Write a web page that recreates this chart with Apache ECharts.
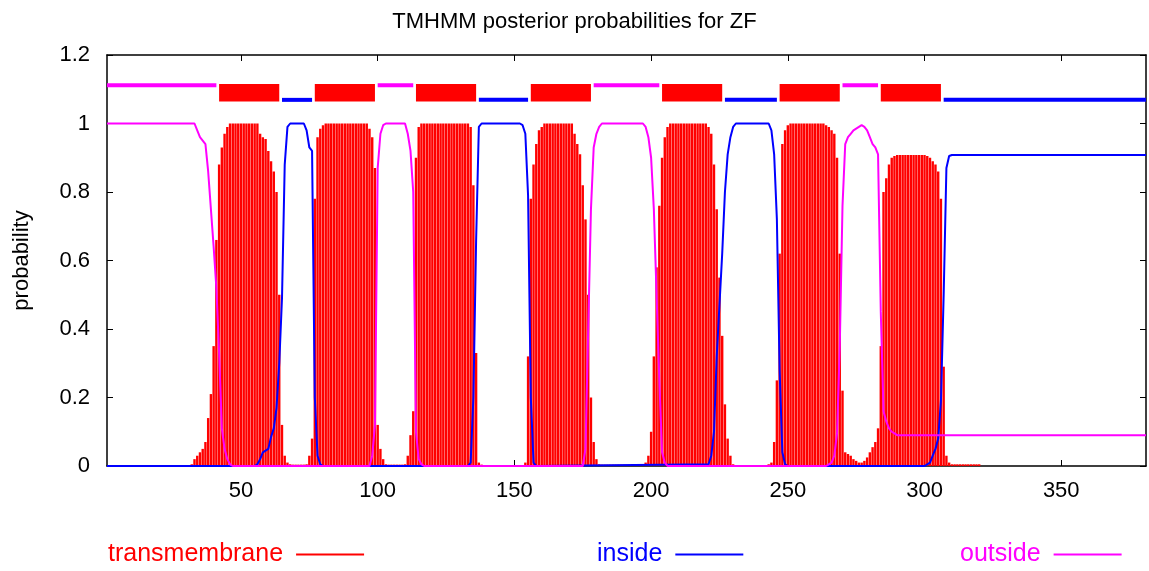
<!DOCTYPE html>
<html>
<head>
<meta charset="utf-8">
<title>TMHMM posterior probabilities for ZF</title>
<script src="https://cdn.jsdelivr.net/npm/echarts@6/dist/echarts.min.js"></script>
<style>
  html, body { margin: 0; padding: 0; background: #ffffff; }
  #chart { width: 1149px; height: 571px; }
</style>
</head>
<body>
<div id="chart"></div>
<script>
// ---- data ---------------------------------------------------------------
const chartTitle = 'TMHMM posterior probabilities for ZF';
const seqLength = 381;
const xTicks = [50, 100, 150, 200, 250, 300, 350];

// posterior probability of being in a transmembrane helix, residues 1..381
const transmembrane = [
  0, 0, 0, 0, 0, 0, 0, 0, 0, 0,                                   // 1-10
  0, 0, 0, 0, 0, 0, 0, 0, 0, 0,                                   // 11-20
  0, 0, 0, 0, 0, 0, 0, 0, 0, 0,                                   // 21-30
  0.003, 0.005, 0.02, 0.03, 0.04, 0.05, 0.07, 0.14, 0.21, 0.35,   // 31-40
  0.66, 0.88, 0.93, 0.97, 0.99, 1, 1, 1, 1, 1,                    // 41-50
  1, 1, 1, 1, 1, 1, 0.97, 0.96, 0.955, 0.92,                      // 51-60
  0.89, 0.86, 0.80, 0.50, 0.12, 0.03, 0.01, 0.005, 0.004, 0.004,  // 61-70
  0.004, 0.004, 0.004, 0.005, 0.03, 0.08, 0.78, 0.96, 0.985, 0.995, // 71-80
  1, 1, 1, 1, 1, 1, 1, 1, 1, 1,                                   // 81-90
  1, 1, 1, 1, 1, 1, 0.985, 0.96, 0.87, 0.12,                      // 91-100
  0.05, 0.02, 0.005, 0.004, 0.004, 0.004, 0.004, 0.004, 0.004, 0.005, // 101-110
  0.03, 0.09, 0.16, 0.90, 0.99, 1, 1, 1, 1, 1,                    // 111-120
  1, 1, 1, 1, 1, 1, 1, 1, 1, 1,                                   // 121-130
  1, 1, 1, 0.99, 0.82, 0.33, 0.01, 0.004, 0.003, 0.003,           // 131-140
  0.003, 0.003, 0.003, 0.003, 0.003, 0.003, 0.003, 0.003, 0.003, 0.003, // 141-150
  0.003, 0.003, 0.003, 0.01, 0.32, 0.78, 0.88, 0.94, 0.98, 0.99,  // 151-160
  1, 1, 1, 1, 1, 1, 1, 1, 1, 1,                                   // 161-170
  1, 0.97, 0.94, 0.91, 0.82, 0.72, 0.50, 0.20, 0.07, 0.02,        // 171-180
  0.005, 0.004, 0.004, 0.004, 0.004, 0.004, 0.004, 0.004, 0.004, 0.004, // 181-190
  0.004, 0.004, 0.004, 0.004, 0.004, 0.004, 0.005, 0.01, 0.03, 0.10, // 191-200
  0.32, 0.58, 0.76, 0.90, 0.96, 0.99, 1, 1, 1, 1,                 // 201-210
  1, 1, 1, 1, 1, 1, 1, 1, 1, 1,                                   // 211-220
  0.99, 0.97, 0.88, 0.75, 0.55, 0.38, 0.18, 0.08, 0.03, 0.005,    // 221-230
  0.003, 0.003, 0.003, 0.003, 0.003, 0.003, 0.003, 0.003, 0.003, 0.003, // 231-240
  0.003, 0.003, 0.005, 0.01, 0.07, 0.25, 0.62, 0.94, 0.98, 0.995, // 241-250
  1, 1, 1, 1, 1, 1, 1, 1, 1, 1,                                   // 251-260
  1, 1, 1, 0.995, 0.99, 0.98, 0.97, 0.90, 0.62, 0.22,             // 261-270
  0.04, 0.035, 0.03, 0.02, 0.015, 0.01, 0.01, 0.015, 0.025, 0.04, // 271-280
  0.055, 0.07, 0.11, 0.35, 0.80, 0.84, 0.88, 0.90, 0.905, 0.908,  // 281-290
  0.908, 0.908, 0.908, 0.908, 0.908, 0.908, 0.908, 0.908, 0.908, 0.908, // 291-300
  0.905, 0.90, 0.89, 0.88, 0.86, 0.78, 0.29, 0.03, 0.01, 0.005,   // 301-310
  0.005, 0.005, 0.005, 0.005, 0.005, 0.005, 0.005, 0.005, 0.005, 0.005, // 311-320
  0, 0, 0, 0, 0, 0, 0, 0, 0, 0,                                   // 321-330
  0, 0, 0, 0, 0, 0, 0, 0, 0, 0,                                   // 331-340
  0, 0, 0, 0, 0, 0, 0, 0, 0, 0,                                   // 341-350
  0, 0, 0, 0, 0, 0, 0, 0, 0, 0,                                   // 351-360
  0, 0, 0, 0, 0, 0, 0, 0, 0, 0,                                   // 361-370
  0, 0, 0, 0, 0, 0, 0, 0, 0, 0,                                   // 371-380
  0                                                               // 381
];

// posterior probability of the inside state: [residue, probability] where the curve bends
const inside = [
  [1, 0], [55, 0], [56, 0.005], [57, 0.02], [58, 0.04], [59, 0.045], [60, 0.05],
  [61, 0.085], [62, 0.11], [63, 0.17], [64, 0.30], [65, 0.49], [66, 0.88], [67, 0.99],
  [68, 1], [73, 1], [74, 0.98], [75, 0.93], [76, 0.92], [77, 0.20], [78, 0.03],
  [79, 0.005], [80, 0],
  [133, 0], [134, 0.01], [135, 0.20], [136, 0.66], [137, 0.99], [138, 1], [152, 1],
  [153, 0.995], [154, 0.97], [155, 0.79], [156, 0.20], [157, 0.01], [158, 0],
  [221, 0.005], [222, 0.03], [223, 0.10], [224, 0.32], [225, 0.47], [226, 0.62],
  [227, 0.80], [228, 0.91], [229, 0.96], [230, 0.99], [231, 1], [243, 1], [244, 0.98],
  [245, 0.91], [246, 0.72], [247, 0.28], [248, 0.04], [249, 0.005], [250, 0],
  [300, 0], [301, 0.005], [302, 0.01], [303, 0.03], [304, 0.05], [305, 0.08],
  [306, 0.19], [307, 0.50], [308, 0.87], [309, 0.905], [310, 0.908], [381, 0.908]
];

// posterior probability of the outside state
const outside = [
  [1, 1], [33, 1], [34, 0.98], [35, 0.96], [36, 0.95], [37, 0.94], [38, 0.86],
  [39, 0.75], [40, 0.64], [41, 0.52], [42, 0.33], [43, 0.11], [44, 0.05], [45, 0.02],
  [46, 0.005], [47, 0],
  [97, 0], [98, 0.03], [99, 0.12], [100, 0.87], [101, 0.97], [102, 0.995], [103, 1],
  [110, 1], [111, 0.97], [112, 0.92], [113, 0.80], [114, 0.10], [115, 0.02],
  [116, 0.005], [117, 0],
  [175, 0], [176, 0.05], [177, 0.40], [178, 0.75], [179, 0.93], [180, 0.97],
  [181, 0.99], [182, 1], [197, 1], [198, 0.99], [199, 0.96], [200, 0.90], [201, 0.75],
  [202, 0.50], [203, 0.25], [204, 0.04], [205, 0.01], [206, 0],
  [264, 0], [265, 0.005], [266, 0.01], [267, 0.03], [268, 0.095], [269, 0.35],
  [270, 0.76], [271, 0.94], [272, 0.96], [273, 0.97], [274, 0.98], [275, 0.985],
  [276, 0.99], [277, 0.995], [278, 0.99], [279, 0.98], [280, 0.96], [281, 0.94],
  [282, 0.93], [283, 0.91], [284, 0.45], [285, 0.16], [286, 0.13], [287, 0.11],
  [288, 0.10], [289, 0.095], [290, 0.09], [381, 0.09]
];

// predicted topology: [first residue, last residue]
const topoOutside = [[1, 41], [100, 113], [179, 203], [270, 283]];
const topoHelix = [[42, 64], [77, 99], [114, 136], [156, 178], [204, 226], [247, 269], [284, 306]];
const topoInside = [[65, 76], [137, 155], [227, 246], [307, 381]];

// ---- chart --------------------------------------------------------------
const FONT = '"Liberation Sans", Arial, Helvetica, sans-serif';
const RED = '#ff0000', BLUE = '#0000ff', MAGENTA = '#ff00ff';

const tmData = transmembrane.map((p, i) => [i + 1, p]);

// topology strip above the curves: helices as boxes, loops as thick lines
function topologyItem(kind, color) {
  return function (params, api) {
    const x0 = api.coord([api.value(0), 0])[0];
    const x1 = api.coord([api.value(1), 0])[0];
    let top, bottom;
    if (kind === 'helix') {
      top = api.coord([1, 1.115])[1];
      bottom = api.coord([1, 1.064])[1];
    } else {
      const mid = api.coord([1, kind === 'outside' ? 1.1115 : 1.069])[1];
      top = mid - 2;
      bottom = mid + 2;
    }
    return {
      type: 'rect',
      shape: { x: x0, y: top, width: x1 - x0, height: bottom - top },
      style: { fill: color }
    };
  };
}

function topologySeries(kind, color, data) {
  return {
    type: 'custom',
    renderItem: topologyItem(kind, color),
    data: data,
    encode: { x: [0, 1] },
    silent: true,
    z: 5
  };
}

const axisLineStyle = { color: '#000000', width: 1.5 };
const tickStyle = { color: '#000000', width: 1 };

function legendFor(name, left, color) {
  return {
    data: [{ name: name, icon: 'rect' }],
    left: left,
    top: 542,
    padding: 0,
    align: 'right',
    orient: 'horizontal',
    itemWidth: 68,
    itemHeight: 2,
    selectedMode: false,
    textStyle: { color: color, fontSize: 25, fontFamily: FONT, padding: [0, 8, 0, 0] }
  };
}

const chart = echarts.init(document.getElementById('chart'), null, { renderer: 'canvas' });
chart.setOption({
  animation: false,
  backgroundColor: '#ffffff',
  title: {
    text: chartTitle,
    left: 'center',
    top: 6,
    textStyle: { fontSize: 22, fontWeight: 'normal', color: '#000000', fontFamily: FONT }
  },
  legend: [
    legendFor('transmembrane', 108, RED),
    legendFor('inside', 597, BLUE),
    legendFor('outside', 960, MAGENTA)
  ],
  grid: { left: 107, right: 3, top: 55, bottom: 105 },
  xAxis: [
    {
      type: 'value', min: 1, max: seqLength, position: 'bottom',
      axisLine: { show: true, onZero: false, lineStyle: axisLineStyle },
      axisTick: { show: true, inside: true, length: 6, customValues: xTicks, lineStyle: tickStyle },
      axisLabel: { show: true, customValues: xTicks, fontSize: 22, color: '#000000', fontFamily: FONT, margin: 14 },
      splitLine: { show: false }
    },
    {
      type: 'value', min: 1, max: seqLength, position: 'top',
      axisLine: { show: true, onZero: false, lineStyle: axisLineStyle },
      axisTick: { show: true, inside: true, length: 6, customValues: xTicks, lineStyle: tickStyle },
      axisLabel: { show: false },
      splitLine: { show: false }
    }
  ],
  yAxis: [
    {
      type: 'value', min: 0, max: 1.2, interval: 0.2, position: 'left',
      name: 'probability', nameLocation: 'middle', nameGap: 74,
      nameTextStyle: { fontSize: 22, color: '#000000', fontFamily: FONT },
      axisLine: { show: true, onZero: false, lineStyle: axisLineStyle },
      axisTick: { show: true, inside: true, length: 6, lineStyle: tickStyle },
      axisLabel: { fontSize: 22, color: '#000000', fontFamily: FONT, margin: 17 },
      splitLine: { show: false }
    },
    {
      type: 'value', min: 0, max: 1.2, interval: 0.2, position: 'right',
      axisLine: { show: true, onZero: false, lineStyle: axisLineStyle },
      axisTick: { show: true, inside: true, length: 6, lineStyle: tickStyle },
      axisLabel: { show: false },
      splitLine: { show: false }
    }
  ],
  series: [
    {
      name: 'transmembrane', type: 'bar', data: tmData,
      barWidth: 2.4, itemStyle: { color: RED }, z: 2, silent: true
    },
    {
      name: 'inside', type: 'line', data: inside, showSymbol: false, symbol: 'none',
      lineStyle: { color: BLUE, width: 2 }, itemStyle: { color: BLUE }, z: 3, silent: true
    },
    {
      name: 'outside', type: 'line', data: outside, showSymbol: false, symbol: 'none',
      lineStyle: { color: MAGENTA, width: 2 }, itemStyle: { color: MAGENTA }, z: 4, silent: true
    },
    topologySeries('outside', MAGENTA, topoOutside),
    topologySeries('helix', RED, topoHelix),
    topologySeries('inside', BLUE, topoInside)
  ]
});
</script>
</body>
</html>
